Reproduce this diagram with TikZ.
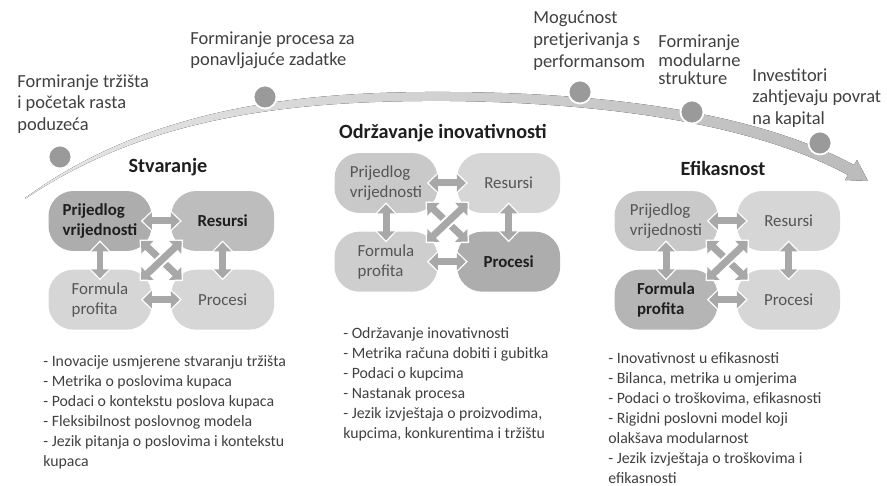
\documentclass[tikz,border=0pt]{standalone}
\usepackage{fontspec}
\setmainfont{Carlito}
\usepackage{xcolor}
\usepackage{tikz}
\usetikzlibrary{arrows.meta,positioning}

\definecolor{arclight}{HTML}{E6E6E6}
\definecolor{arcdark}{HTML}{BBBBBB}
\definecolor{dotgray}{HTML}{9A9A9A}
\definecolor{blobdark}{HTML}{ADADAD}
\definecolor{blobmid}{HTML}{C9C9C9}
\definecolor{bloblight}{HTML}{D6D6D6}
\definecolor{arrowgray}{HTML}{A8A8A8}
\definecolor{txtgray}{HTML}{555555}
\definecolor{txtdark}{HTML}{1E1E1E}

\begin{document}
\begin{tikzpicture}[
  x=0.02cm, y=-0.02cm,
  lbl/.style={anchor=north west, align=left, inner sep=0pt, text=txtdark!85, font=\fontsize{10.5}{12.3}\selectfont},
  lst/.style={anchor=north west, align=left, inner sep=0pt, text=txtdark!85, font=\fontsize{9}{11.4}\selectfont},
  ttl/.style={font=\bfseries\fontsize{11.5}{13}\selectfont, text=txtdark},
  stagept/.style={circle, fill=dotgray, draw=white, line width=1pt, minimum size=0.46cm, inner sep=0pt},
  blob/.style={rounded corners=0.5cm, minimum width=2.06cm, minimum height=1.2cm, inner sep=2pt, align=left, fill=bloblight, text=txtgray, font=\fontsize{9.6}{11.4}\selectfont},
  keyblob/.style={blob, fill=blobdark, text=txtdark, font=\bfseries\fontsize{9.6}{11.4}\selectfont},
  twoway/.style={draw=arrowgray, line width=0.14cm, {Triangle[width=0.34cm,length=0.18cm]}-{Triangle[width=0.34cm,length=0.18cm]},
    shorten <=-#1, shorten >=-#1,
    preaction={draw=white, line width=0.22cm, {Triangle[width=0.48cm,length=0.26cm]}-{Triangle[width=0.48cm,length=0.26cm]},
      shorten <=-#1-0.04cm, shorten >=-#1-0.04cm}},
  twoway/.default=0.18cm
]
\useasboundingbox (0,0) rectangle (887,486);

% life cycle arc
\fill[left color=arclight, right color=arcdark]
  (25,198) .. controls (150,107) and (300,91) .. (450,92)
  .. controls (620,93) and (760,115) .. (854,165) -- (857,160) -- (868,181) -- (845,180) -- (848,175)
  .. controls (760,127) and (620,103) .. (450,101)
  .. controls (300,100) and (150,114) .. (25,199) -- cycle;

\node[stagept] (d1) at (60,157) {};
\node[stagept] (d2) at (265,97) {};
\node[stagept] (d3) at (580,92) {};
\node[stagept] (d4) at (692,112) {};
\node[stagept] (d5) at (820,143) {};

\node[lbl] (l1) at (17,74) {Formiranje tržišta\\i početak rasta\\poduzeća};
\node[lbl] (l2) at (190,31) {Formiranje procesa za\\ponavljajuće zadatke};
\node[lbl] (l3) at (533,11) {Mogućnost\\pretjerivanja s\\performansom};
\node[lbl, font=\fontsize{10.5}{10.8}\selectfont] (l4) at (658,34) {Formiranje\\modularne\\strukture};
\node[lbl] (l5) at (752,68) {Investitori\\zahtjevaju povrat\\na kapital};

\node[ttl] (tc) at (168,167) {Stvaranje};
\node[ttl] (to) at (443,133) {Održavanje inovativnosti};
\node[ttl] (te) at (723,168) {Efikasnost};

% Stvaranje
\node[keyblob] (cpv) at (100,221) {Prijedlog\\vrijednosti};
\node[keyblob, fill=blobdark!60!bloblight, right=0.38cm of cpv] (crs) {Resursi};
\node[blob, below=0.36cm of cpv] (cfp) {Formula\\profita};
\node[blob, below=0.36cm of crs] (cpr) {Procesi};

% Odrzavanje inovativnosti
\node[blob, fill=blobmid] (opv) at (386,183) {Prijedlog\\vrijednosti};
\node[blob, right=0.38cm of opv] (ors) {Resursi};
\node[blob, fill=blobmid!60!bloblight, below=0.36cm of opv] (ofp) {Formula\\profita};
\node[keyblob, below=0.36cm of ors] (opr) {Procesi};

% Efikasnost
\node[blob, fill=blobmid] (epv) at (666,221) {Prijedlog\\vrijednosti};
\node[blob, right=0.38cm of epv] (ers) {Resursi};
\node[keyblob, fill=blobdark!80!bloblight, below=0.36cm of epv] (efp) {Formula\\profita};
\node[blob, below=0.36cm of ers] (epr) {Procesi};

\foreach \p in {c,o,e} {
  \draw[twoway] (\p pv) -- (\p rs);
  \draw[twoway] (\p fp) -- (\p pr);
  \draw[twoway] (\p pv) -- (\p fp);
  \draw[twoway] (\p rs) -- (\p pr);
  \draw[twoway=0.3cm] (\p pv.south east) -- (\p pr.north west);
  \draw[twoway=0.3cm] (\p rs.south west) -- (\p fp.north east);
}

\node[lst] (lc) at (43,355) {- Inovacije usmjerene stvaranju tržišta\\- Metrika o poslovima kupaca\\- Podaci o kontekstu poslova kupaca\\- Fleksibilnost poslovnog modela\\- Jezik pitanja o poslovima i kontekstu\\kupaca};
\node[lst] (lo) at (343,327) {- Održavanje inovativnosti\\- Metrika računa dobiti i gubitka\\- Podaci o kupcima\\- Nastanak procesa\\- Jezik izvještaja o proizvodima,\\kupcima, konkurentima i tržištu};
\node[lst] (le) at (608,352) {- Inovativnost u efikasnosti\\- Bilanca, metrika u omjerima\\- Podaci o troškovima, efikasnosti\\- Rigidni poslovni model koji\\olakšava modularnost\\- Jezik izvještaja o troškovima i\\efikasnosti};
\end{tikzpicture}
\end{document}
